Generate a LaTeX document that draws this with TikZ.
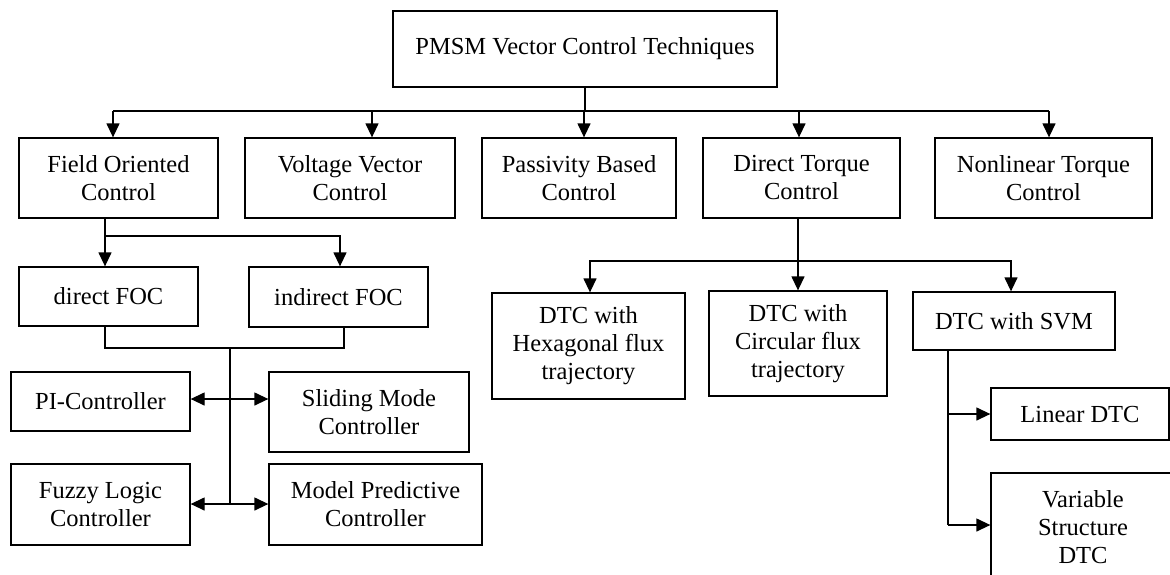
\documentclass[tikz,border=0pt]{standalone}
\usepackage{fontspec}
\setmainfont{Liberation Serif}
\usetikzlibrary{arrows.meta}
\tikzset{
  box/.style={draw, line width=1.3pt, align=center, inner sep=0pt,
    font=\fontsize{24.5}{28}\selectfont},
  arr/.style={-{Triangle[length=14pt,width=13pt]}},
}
\begin{document}
\begin{tikzpicture}[x=1pt,y=-1pt,line width=1.3pt]
  \useasboundingbox (0,0) rectangle (1170,574);
  % root
  \node[box, minimum width=384, minimum height=76] (top) at (585,49) {PMSM Vector Control Techniques};
  % first level
  \node[box, minimum width=199, minimum height=80] (foc) at (118.5,178) {Field Oriented\\Control};
  \node[box, minimum width=210, minimum height=80] (vvc) at (350,178) {Voltage Vector\\Control};
  \node[box, minimum width=194, minimum height=80] (pbc) at (579,178) {Passivity Based\\Control};
  \node[box, minimum width=197, minimum height=80] (dtc) at (801.5,178) {Direct Torque\\Control};
  \node[box, minimum width=217, minimum height=80] (ntc) at (1043.5,178) {Nonlinear Torque\\Control};
  % FOC branch
  \node[box, minimum width=179, minimum height=59] (dfoc) at (108.5,296.5) {direct FOC};
  \node[box, minimum width=179, minimum height=60] (ifoc) at (338.5,297) {indirect FOC};
  \node[box, minimum width=179, minimum height=59] (pi) at (100.5,401.5) {PI-Controller};
  \node[box, minimum width=200, minimum height=80] (smc) at (369,412) {Sliding Mode\\Controller};
  \node[box, minimum width=179, minimum height=81] (flc) at (100.5,504.5) {Fuzzy Logic\\Controller};
  \node[box, minimum width=213, minimum height=81] (mpc) at (375.5,504.5) {Model Predictive\\Controller};
  % DTC branch
  \node[box, minimum width=193, minimum height=106] (hex) at (588.5,346) {DTC with\\Hexagonal flux\\trajectory};
  \node[box, minimum width=178, minimum height=105] (circ) at (798,343.5) {DTC with\\Circular flux\\trajectory};
  \node[box, minimum width=202, minimum height=58] (svm) at (1014,321) {DTC with SVM};
  \node[box, minimum width=178, minimum height=52] (lin) at (1080,414) {Linear DTC};
  \node[box, minimum width=184, minimum height=108] (vsd) at (1083,527) {Variable\\Structure\\DTC};

  % root to first level
  \coordinate (bus) at (0,111);
  \draw (top.south) -- (top.south |- bus);
  \draw ([xshift=-5.5pt]foc.north |- bus) -- ([xshift=5.5pt]ntc.north |- bus);
  \foreach \n/\s in {foc/-5.5pt, vvc/22pt, pbc/5pt, dtc/-2.5pt, ntc/5.5pt}
    \draw[arr] ([xshift=\s]\n.north |- bus) -- ([xshift=\s]\n.north);

  % FOC split
  \coordinate (fbus) at (0,236);
  \draw[arr] ([xshift=-13.5pt]foc.south) -- ([xshift=-3.5pt]dfoc.north);
  \draw[arr] ([xshift=-13.5pt]foc.south |- fbus) -| ([xshift=1.5pt]ifoc.north);
  % controllers
  \coordinate (mrg) at (230,348);
  \coordinate (j1) at (230,399);
  \coordinate (j2) at (230,504);
  \draw ([xshift=-3.5pt]dfoc.south) |- (mrg) -| ([xshift=5.5pt]ifoc.south);
  \draw (mrg) -- (j2);
  \draw[arr] (j1) -- (pi.east |- j1);
  \draw[arr] (j1) -- (smc.west |- j1);
  \draw[arr] (j2) -- (flc.east |- j2);
  \draw[arr] (j2) -- (mpc.west |- j2);

  % DTC split
  \coordinate (dbus) at (0,261);
  \draw[arr] ([xshift=-3.5pt]dtc.south) -- (circ.north);
  \draw[arr] (circ.north |- dbus) -| ([xshift=1.5pt]hex.north);
  \draw[arr] (circ.north |- dbus) -| ([xshift=-3pt]svm.north);
  % SVM variants
  \coordinate (s1) at (948,414);
  \coordinate (s2) at (948,525);
  \draw ([xshift=-66pt]svm.south) -- (s2);
  \draw[arr] (s1) -- (lin.west |- s1);
  \draw[arr] (s2) -- (vsd.west |- s2);
\end{tikzpicture}
\end{document}
